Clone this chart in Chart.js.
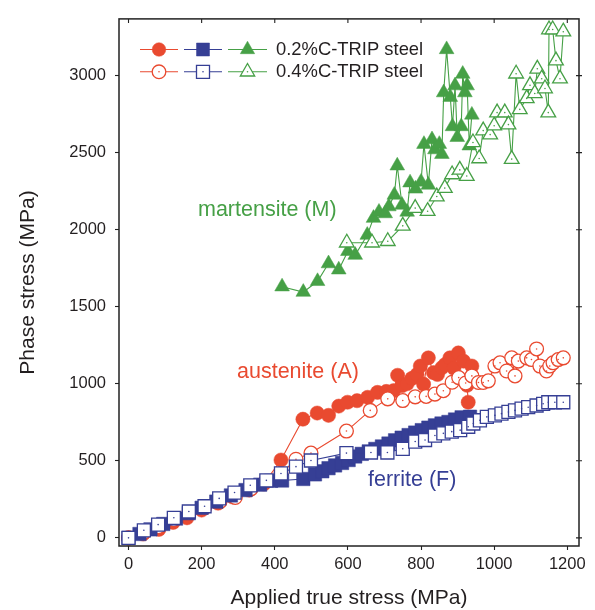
<!DOCTYPE html>
<html><head><meta charset="utf-8">
<script src="https://cdn.jsdelivr.net/npm/chart.js@4.4.1/dist/chart.umd.min.js"></script>
<style>html,body{margin:0;padding:0;background:#fff}#wrap{width:595px;height:610px}</style>
</head><body><div id="wrap"><canvas id="c" width="595" height="610"></canvas></div>
<script>
// ---- tick labels ----
const xTicks = [0, 200, 400, 600, 800, 1000, 1200];
const yTicks = [0, 500, 1000, 1500, 2000, 2500, 3000];

// ---- series labels ----
const legendLabels = ['0.2%C-TRIP steel', '0.4%C-TRIP steel'];
const phaseLabels = ['martensite (M)', 'austenite (A)', 'ferrite (F)'];

// ---- data: [applied true stress, phase stress] (MPa) ----
const austenite02 = [[0,0],[40,25],[83,55],[122,100],[160,130],[200,180],[245,225],[285,265],[330,310],[370,350],
  [417,505],[477,770],[516,810],[547,795],[575,855],[599,880],[625,890],[654,912],[681,944],[705,950],[725,955],
  [736,1055],[748,987],[762,1000],[775,1035],[789,1060],[798,1115],[807,997],[820,1168],[834,1072],[845,1060],
  [857,1104],[866,1125],[879,1168],[890,1100],[902,1200],[916,1147],[939,1115],[926,990],[929,880]];
const austenite04 = [[0,0],[42,35],[82,72],[124,118],[165,160],[208,196],[250,235],[292,262],[335,318],[374,365],
  [417,415],[458,510],[499,550],[596,693],[661,827],[709,902],[750,891],[784,915],[814,918],[838,933],[861,955],
  [885,1010],[903,1040],[922,1005],[939,1051],[957,1008],[970,1008],[984,1019],[1002,1115],[1016,1136],[1034,1083],
  [1048,1168],[1057,1051],[1066,1147],[1089,1168],[1102,1157],[1116,1226],[1125,1115],[1143,1083],[1152,1115],
  [1161,1136],[1175,1157],[1189,1168]];
const ferrite02 = [[0,0],[30,25],[60,55],[95,90],[130,125],[165,160],[200,195],[240,235],[280,275],[320,310],
  [360,345],[390,370],[420,372],[478,382],[510,412],[530,432],[547,452],[565,470],[584,486],[602,505],[620,528],
  [638,545],[657,561],[675,577],[693,593],[711,612],[729,633],[747,650],[766,667],[784,683],[802,699],[820,715],
  [838,730],[856,742],[875,752],[893,768],[911,782],[934,786]];
const ferrite04 = [[0,0],[42,49],[81,86],[124,130],[165,171],[208,205],[248,256],[290,294],[333,341],[377,373],
  [417,418],[458,462],[499,502],[596,550],[663,554],[708,554],[750,578],[784,625],[811,635],[838,664],[861,678],
  [884,689],[907,699],[929,721],[943,742],[961,763],[980,785],[1002,795],[1020,806],[1039,817],[1057,827],
  [1075,838],[1093,848],[1116,859],[1134,870],[1148,880],[1166,880],[1189,880]];
const martensite02 = [[420,1630],[478,1595],[517,1665],[547,1780],[575,1740],[600,1860],[620,1835],[653,1965],
  [670,2075],[685,2115],[702,2105],[712,2150],[727,2225],[735,2415],[748,2160],[762,2115],[770,2305],[785,2265],
  [800,2310],[808,2555],[820,2290],[830,2585],[838,2520],[850,2555],[857,2490],[862,2890],[870,3170],[880,2860],
  [886,2670],[893,2935],[899,2600],[910,2670],[914,3010],[920,2890],[926,2935],[932,2545],[939,2745]];
const martensite04 = [[597,1915],[666,1915],[709,1925],[750,2025],[784,2140],[818,2120],[843,2215],[865,2270],
  [885,2358],[906,2388],[925,2348],[942,2566],[959,2462],[970,2643],[989,2617],[1000,2675],[1008,2760],[1029,2760],
  [1039,2682],[1048,2458],[1060,3012],[1070,2781],[1089,2852],[1098,2937],[1111,2884],[1118,3044],[1130,2980],
  [1139,2916],[1148,2760],[1150,3299],[1160,3299],[1169,3097],[1180,2980],[1189,3285]];

// ---- colours ----
const RED = '#e94a30', BLUE = '#363f95', GREEN = '#46a046', TXT = '#231f20';
const FONT = "'Liberation Sans', Arial, Helvetica, sans-serif";

const pts = a => a.map(p => ({x: p[0], y: p[1]}));

function series(data, color, style, radius, filled, order) {
  return {
    data: pts(data), order, showLine: true, tension: 0,
    borderColor: color, borderWidth: 1.1,
    pointStyle: style, pointRadius: radius, pointHoverRadius: radius,
    pointBackgroundColor: filled ? color : '#ffffff',
    pointBorderColor: color, pointBorderWidth: filled ? 0.5 : 1.3
  };
}
function dots(data, color, order) {
  return { data: pts(data), order, showLine: false, pointStyle: 'circle', pointRadius: 0.8,
    pointBorderWidth: 0, pointBackgroundColor: color, pointHoverRadius: 0.8 };
}

const datasets = [
  series(austenite02, RED, 'circle', 7.1, true, 20),
  series(austenite04, RED, 'circle', 6.9, false, 19), dots(austenite04, RED, 18),
  series(ferrite02, BLUE, 'rect', 9.5, true, 17),
  series(ferrite04, BLUE, 'rect', 9.2, false, 16), dots(ferrite04, BLUE, 15),
  series(martensite02, GREEN, 'triangle', 8.5, true, 14),
  series(martensite04, GREEN, 'triangle', 8.5, false, 13), dots(martensite04, GREEN, 12)
];

const frame = {
  id: 'frame',
  afterDraw(chart) {
    const {ctx, chartArea: a, scales} = chart;
    ctx.save();
    ctx.strokeStyle = '#222'; ctx.lineWidth = 1.5;
    ctx.strokeRect(a.left, a.top, a.right - a.left, a.bottom - a.top);
    ctx.lineWidth = 1.1;
    ctx.beginPath();
    xTicks.forEach(v => { const px = scales.x.getPixelForValue(v); ctx.moveTo(px, a.top); ctx.lineTo(px, a.top + 4); });
    yTicks.forEach(v => { const py = scales.y.getPixelForValue(v); ctx.moveTo(a.right - 3, py); ctx.lineTo(a.right + 3, py); });
    ctx.stroke();

    // legend
    const rows = [{y: 49.5, filled: true}, {y: 71.8, filled: false}];
    const cols = [{c: RED, x0: 140, x1: 178, m: 159, s: 'circle'},
                  {c: BLUE, x0: 184, x1: 222, m: 203, s: 'rect'},
                  {c: GREEN, x0: 228, x1: 267, m: 247.5, s: 'tri'}];
    rows.forEach((r, ri) => {
      cols.forEach(k => {
        ctx.strokeStyle = k.c; ctx.lineWidth = 1.1;
        ctx.beginPath(); ctx.moveTo(k.x0, r.y); ctx.lineTo(k.x1, r.y); ctx.stroke();
        ctx.beginPath();
        if (k.s === 'circle') ctx.arc(k.m, r.y, 6.8, 0, Math.PI * 2);
        else if (k.s === 'rect') ctx.rect(k.m - 6.5, r.y - 6.5, 13, 13);
        else { ctx.moveTo(k.m, r.y - 8.3); ctx.lineTo(k.m + 7.2, r.y + 4.2); ctx.lineTo(k.m - 7.2, r.y + 4.2); ctx.closePath(); }
        ctx.fillStyle = r.filled ? k.c : '#fff'; ctx.fill();
        ctx.lineWidth = r.filled ? 0.5 : 1.3; ctx.stroke();
        if (!r.filled) { ctx.fillStyle = k.c; ctx.beginPath(); ctx.arc(k.m, r.y, 0.8, 0, Math.PI * 2); ctx.fill(); }
      });
      ctx.fillStyle = TXT; ctx.font = '18.4px ' + FONT; ctx.textAlign = 'left'; ctx.textBaseline = 'middle';
      ctx.fillText(legendLabels[ri], 276, r.y + 0.5);
    });

    // phase labels
    ctx.font = '21.5px ' + FONT; ctx.textBaseline = 'middle'; ctx.textAlign = 'left';
    ctx.fillStyle = GREEN; ctx.fillText(phaseLabels[0], 198, 210);
    ctx.fillStyle = RED; ctx.fillText(phaseLabels[1], 237, 372);
    ctx.fillStyle = BLUE; ctx.fillText(phaseLabels[2], 368, 480);
    ctx.restore();
  }
};

const plain = v => String(v);

new Chart(document.getElementById('c'), {
  type: 'scatter',
  data: { datasets },
  plugins: [frame],
  options: {
    responsive: false, animation: false, devicePixelRatio: 1,
    layout: { padding: { top: 11, right: 16, left: 0, bottom: 0 } },
    plugins: { legend: { display: false }, tooltip: { enabled: false } },
    scales: {
      x: {
        type: 'linear', min: -26, max: 1232,
        afterBuildTicks: s => { s.ticks = xTicks.map(v => ({value: v})); },
        afterFit: s => { s.height = 64; },
        border: { display: false },
        grid: { drawOnChartArea: false, drawTicks: true, tickLength: 4, tickColor: '#222', tickWidth: 1.1 },
        ticks: { color: TXT, font: { family: FONT, size: 16.5 }, padding: 5, maxRotation: 0, callback: plain },
        title: { display: true, text: 'Applied true stress (MPa)', color: TXT,
                 font: { family: FONT, size: 21, lineHeight: 1.0 }, padding: { top: 0, bottom: 1.5 } }
      },
      y: {
        type: 'linear', min: -53, max: 3368,
        afterBuildTicks: s => { s.ticks = yTicks.map(v => ({value: v})); },
        afterFit: s => { s.width = 119; },
        border: { display: false },
        grid: { drawOnChartArea: false, drawTicks: true, tickLength: 4, tickColor: '#222', tickWidth: 1.1 },
        ticks: { color: TXT, font: { family: FONT, size: 16.5 }, padding: 9, callback: plain },
        title: { display: true, text: 'Phase stress (MPa)', color: TXT,
                 font: { family: FONT, size: 21, lineHeight: 1.0 }, padding: { top: 18, bottom: 0 } }
      }
    }
  }
});
</script></body></html>
